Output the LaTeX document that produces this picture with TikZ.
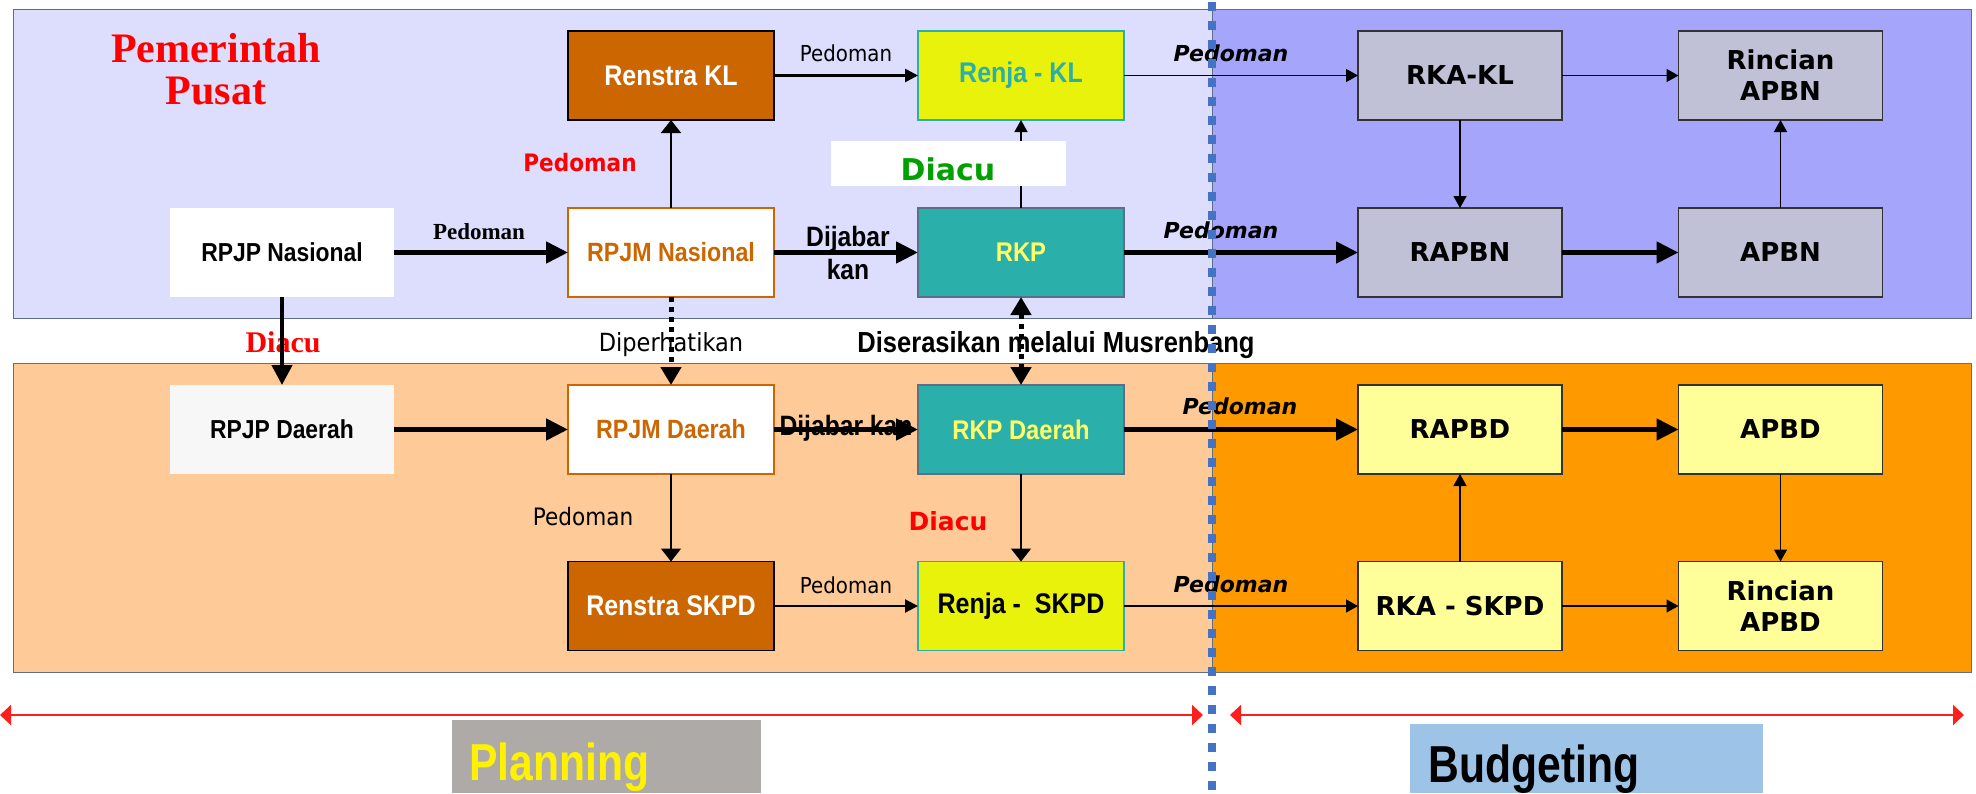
\documentclass[tikz,border=0pt]{standalone}
\usepackage{fontspec}
\setmainfont{Liberation Sans}
\newfontfamily\nar[FakeStretch=0.88]{Liberation Sans}
\newfontfamily\narr[FakeStretch=0.82]{Liberation Sans}
\newfontfamily\tah[FakeStretch=0.9]{DejaVu Sans}
\newfontfamily\ver{DejaVu Sans}
\newfontfamily\tms{Liberation Serif}
\usetikzlibrary{arrows.meta}

\definecolor{cLav}{RGB}{221,221,253}
\definecolor{cPeri}{RGB}{165,165,252}
\definecolor{cPeach}{RGB}{253,202,152}
\definecolor{cOrange}{RGB}{255,153,0}
\definecolor{cBrown}{RGB}{204,102,0}
\definecolor{cTeal}{RGB}{43,175,170}
\definecolor{cLemon}{RGB}{232,242,10}
\definecolor{cGrayBox}{RGB}{192,192,214}
\definecolor{cPaleY}{RGB}{255,255,153}
\definecolor{cTxtY}{RGB}{255,255,102}
\definecolor{cFrame}{RGB}{95,110,135}
\definecolor{cDot}{RGB}{68,114,196}
\definecolor{cRed}{RGB}{255,30,30}
\definecolor{cGreen}{RGB}{0,160,0}
\definecolor{cPlan}{RGB}{174,170,168}
\definecolor{cBudget}{RGB}{157,195,230}

\begin{document}
\begin{tikzpicture}
        [x=0.5pt, y=-0.5pt,
        box/.style={minimum width=103pt, minimum height=44.5pt, inner sep=0pt, outer sep=0pt, align=center},
        boxRpjp/.style={box, minimum width=112pt, fill=white, font=\nar\bfseries\fontsize{13}{15}\selectfont},
        boxRpjm/.style={box, draw=cBrown, line width=0.8pt, fill=white, text=cBrown, font=\nar\bfseries\fontsize{13.2}{15}\selectfont},
        boxRenstra/.style={box, draw=black, line width=0.9pt, fill=cBrown, text=white, font=\nar\bfseries\fontsize{14.2}{16}\selectfont},
        boxRenja/.style={box, draw=cTeal, line width=0.8pt, fill=cLemon, font=\nar\bfseries\fontsize{14.2}{16}\selectfont},
        boxRkp/.style={box, draw=cFrame, line width=0.8pt, fill=cTeal, text=cTxtY, font=\nar\bfseries\fontsize{13.5}{15}\selectfont},
        boxApbn/.style={box, minimum width=102pt, draw=black!80, line width=0.7pt, fill=cGrayBox, font=\ver\bfseries\fontsize{13}{15.5}\selectfont},
        boxApbd/.style={boxApbn, fill=cPaleY},
        lblSerif/.style={inner sep=0pt, font=\tms\bfseries\fontsize{11.5}{13}\selectfont},
        lblIt/.style={inner sep=0pt, font=\ver\bfseries\itshape\fontsize{11}{13}\selectfont},
        lblThin/.style={inner sep=0pt, font=\tah\fontsize{11}{13}\selectfont},
        lblBold/.style={inner sep=0pt, align=center, font=\nar\bfseries\fontsize{14}{16.5}\selectfont},
        thinArr/.style={line width=0.7pt, -{Triangle[length=6pt,width=6.5pt]}},
        midArr/.style={line width=0.9pt, -{Triangle[length=6.5pt,width=10pt]}},
        thickArr/.style={line width=2.4pt, -{Triangle[length=11pt,width=10.5pt]}},
        dotArr/.style={line width=2.5pt, dash pattern=on 2.5pt off 2.5pt, -{Triangle[length=9pt,width=10pt]}},
        redArr/.style={cRed, line width=1pt, {Triangle[length=5.5pt,width=10pt]}-{Triangle[length=5.5pt,width=10pt]}}]
        \useasboundingbox (0,0) rectangle (1976,793);

        % panels
        \draw[cFrame, fill=cLav] (13.4,9.3) rectangle (1212,318);
        \draw[cFrame, fill=cPeri] (1212,9.3) rectangle (1971,318);
        \draw[cFrame, fill=cPeach] (13.4,363) rectangle (1212,672);
        \draw[cFrame, fill=cOrange] (1212,363) rectangle (1971,672);

        \node[align=center, inner sep=0pt, text=red, font=\tms\bfseries\fontsize{21}{21}\selectfont] (pemPusat) at (216,69) {Pemerintah\\Pusat};

        % labels
        \node[lblSerif] (pdmSerif) at (479,232) {Pedoman};
        \node[inner sep=0pt, text=red, font=\tah\bfseries\fontsize{12}{14}\selectfont] (pdmRed) at (580,163) {Pedoman};
        \node[lblThin] (pdmTop) at (846,53) {Pedoman};
        \node[lblIt] (pdmIt1) at (1231,53.5) {Pedoman};
        \node[lblIt] (pdmIt2) at (1221,230.5) {Pedoman};
        \node[lblIt] (pdmIt3) at (1240,406.5) {Pedoman};
        \node[lblIt] (pdmIt4) at (1231,584.5) {Pedoman};
        \node[lblBold] (jabarN) at (848,252.5) {Dijabar\\kan};
        \node[lblBold] (jabarD) at (846,428) {Dijabar kan};
        \node[inner sep=0pt, text=red, font=\tms\bfseries\fontsize{15}{17}\selectfont] (diacuSerif) at (283,342.5) {Diacu};
        \node[inner sep=0pt, font=\tah\fontsize{12.5}{14}\selectfont] (perhati) at (671,345) {Diperhatikan};
        \node[inner sep=0pt, font=\nar\bfseries\fontsize{14.5}{16}\selectfont] (serasi) at (1056,345) {Diserasikan melalui Musrenbang};
        \node[inner sep=0pt, text=red, font=\ver\bfseries\fontsize{12.5}{14}\selectfont] (diacuRed) at (948,521) {Diacu};
        \node[inner sep=0pt, font=\tah\fontsize{12}{14}\selectfont] (pdmDaerah) at (583,517) {Pedoman};
        \node[lblThin] (pdmBot) at (846,585) {Pedoman};

        % boxes
        \node[boxRenstra] (renstraKL) at (671,75.5) {Renstra KL};
        \node[boxRenja, text=cTeal] (renjaKL) at (1021,75.5) {Renja - KL};
        \node[boxApbn] (rkaKL) at (1460,75.5) {RKA-KL};
        \node[boxApbn] (rincianN) at (1780.5,75.5) {Rincian\\APBN};

        \node[boxRpjp] (rpjpN) at (282,252.5) {RPJP Nasional};
        \node[boxRpjm] (rpjmN) at (671,252.5) {RPJM Nasional};
        \node[boxRkp] (rkp) at (1021,252.5) {RKP};
        \node[boxApbn] (rapbn) at (1460,252.5) {RAPBN};
        \node[boxApbn] (apbn) at (1780.5,252.5) {APBN};

        \node[boxRpjp, fill=white!97!black] (rpjpD) at (282,429.5) {RPJP Daerah};
        \node[boxRpjm] (rpjmD) at (671,429.5) {RPJM Daerah};
        \node[boxRkp] (rkpD) at (1021,429.5) {RKP Daerah};
        \node[boxApbd] (rapbd) at (1460,429.5) {RAPBD};
        \node[boxApbd] (apbd) at (1780.5,429.5) {APBD};

        \node[boxRenstra] (renstraS) at (671,606) {Renstra SKPD};
        \node[boxRenja] (renjaS) at (1021,606) {Renja -\ \ SKPD};
        \node[boxApbd] (rkaS) at (1460,606) {RKA - SKPD};
        \node[boxApbd] (rincianD) at (1780.5,606) {Rincian\\APBD};

        % connectors
        \draw[thickArr] (rpjpN) -- (rpjmN);
        \draw[thickArr] (rpjmN) -- (rkp);
        \draw[thickArr] (rkp) -- (rapbn);
        \draw[thickArr] (rapbn) -- (apbn);
        \draw[midArr] (rpjmN) -- (renstraKL);
        \draw[line width=1.3pt, -{Triangle[length=6.5pt,width=6.5pt]}] (renstraKL) -- (renjaKL);
        \draw[thinArr] (rkp) -- (renjaKL);
        \draw[thinArr] (renjaKL) -- (rkaKL);
        \draw[thinArr] (rkaKL) -- (rincianN);
        \draw[thinArr] (rkaKL) -- (rapbn);
        \draw[thinArr] (apbn) -- (rincianN);

        \draw[line width=2.2pt, -{Triangle[length=10pt,width=10pt]}] (rpjpN) -- (rpjpD);
        \draw[dotArr] (rpjmN) -- (rpjmD);
        \draw[dotArr, {Triangle[length=9pt,width=10pt]}-{Triangle[length=9pt,width=10pt]}] (rkp) -- (rkpD);

        \draw[thickArr] (rpjpD) -- (rpjmD);
        \draw[thickArr] (rpjmD) -- (rkpD);
        \draw[thickArr] (rkpD) -- (rapbd);
        \draw[thickArr] (rapbd) -- (apbd);
        \draw[midArr] (rpjmD) -- (renstraS);
        \draw[midArr] (rkpD) -- (renjaS);
        \draw[line width=1.1pt, -{Triangle[length=6.5pt,width=6.5pt]}] (renstraS) -- (renjaS);
        \draw[thinArr] (renjaS) -- (rkaS);
        \draw[thinArr] (rkaS) -- (rapbd);
        \draw[thinArr] (apbd) -- (rincianD);
        \draw[thinArr] (rkaS) -- (rincianD);

        \node[fill=white, minimum width=117.5pt, minimum height=22.5pt, inner sep=0pt] (diacuBox) at (948.5,163.5) {};
        \node[inner sep=0pt, text=cGreen, font=\ver\bfseries\fontsize{15}{17}\selectfont] (diacuGreen) at (948,169) {Diacu};

        % planning / budgeting
        \coordinate (planL) at (0,715);
        \coordinate (planR) at (1203,715);
        \coordinate (budL) at (1230,715);
        \coordinate (budR) at (1964,715);
        \draw[redArr] (planL) -- (planR);
        \draw[redArr] (budL) -- (budR);
        \node[fill=cPlan, anchor=north west, minimum width=154.5pt, minimum height=36.5pt, inner sep=0pt] (planBox) at (452,720) {};
        \node[anchor=base west, inner sep=0pt, text=yellow, font=\narr\bfseries\fontsize{26}{28}\selectfont] (planTxt) at (469,780) {Planning};
        \node[fill=cBudget, anchor=north west, minimum width=176.5pt, minimum height=34.5pt, inner sep=0pt] (budBox) at (1410,724) {};
        \node[anchor=base west, inner sep=0pt, font=\narr\bfseries\fontsize{26}{28}\selectfont] (budTxt) at (1428,782) {Budgeting};

        \coordinate (dTop) at (1212,2);
        \coordinate (dBot) at (1212,790);
        \draw[cDot, line width=4pt, dash pattern=on 4.5pt off 5pt] (dTop) -- (dBot);

    \end{tikzpicture}
\end{document}
